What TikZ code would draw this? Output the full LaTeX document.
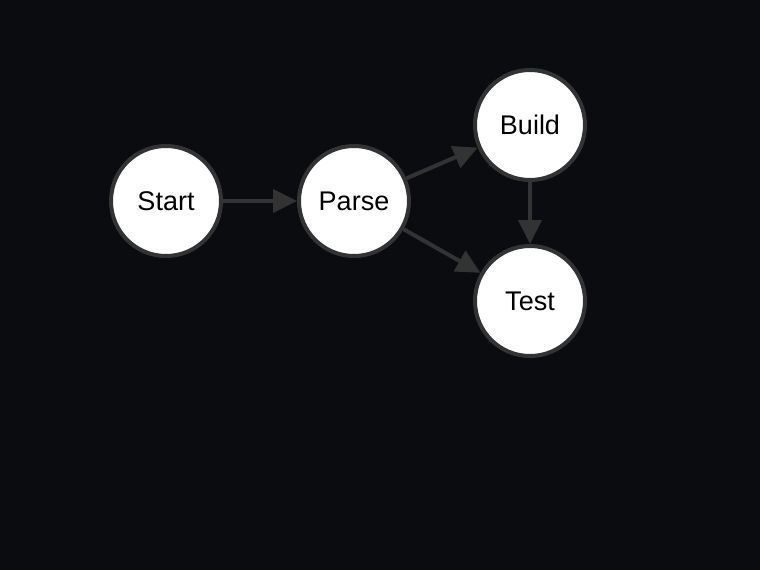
\documentclass[tikz,border=0pt]{standalone}
\usepackage{fontspec}
\setmainfont{Liberation Sans}
\usetikzlibrary{arrows.meta}
\definecolor{bg}{HTML}{0B0C10}
\definecolor{edge}{HTML}{333333}
\begin{document}
\begin{tikzpicture}[x=1pt,y=-1pt,
  stnode/.style={circle,fill=white,draw=edge,line width=4pt,minimum size=110pt,inner sep=0pt,font=\fontsize{27}{31}\selectfont,text=black},
  conn/.style={draw=edge,line width=4pt,-{Triangle[length=24pt,width=23pt]}}]
\fill[bg] (0,0) rectangle (760,570);
\useasboundingbox (0,0) rectangle (760,570);
\node[stnode] (start) at (166,201) {Start};
\node[stnode] (parse) at (354,201) {Parse};
\node[stnode] (build) at (530,125) {Build};
\node[stnode] (test) at (530,301) {Test};
\draw[conn] (start) -- (parse);
\draw[conn] (parse) -- (build);
\draw[conn] (parse) -- (test);
\draw[conn] (build) -- (test);
\end{tikzpicture}
\end{document}
